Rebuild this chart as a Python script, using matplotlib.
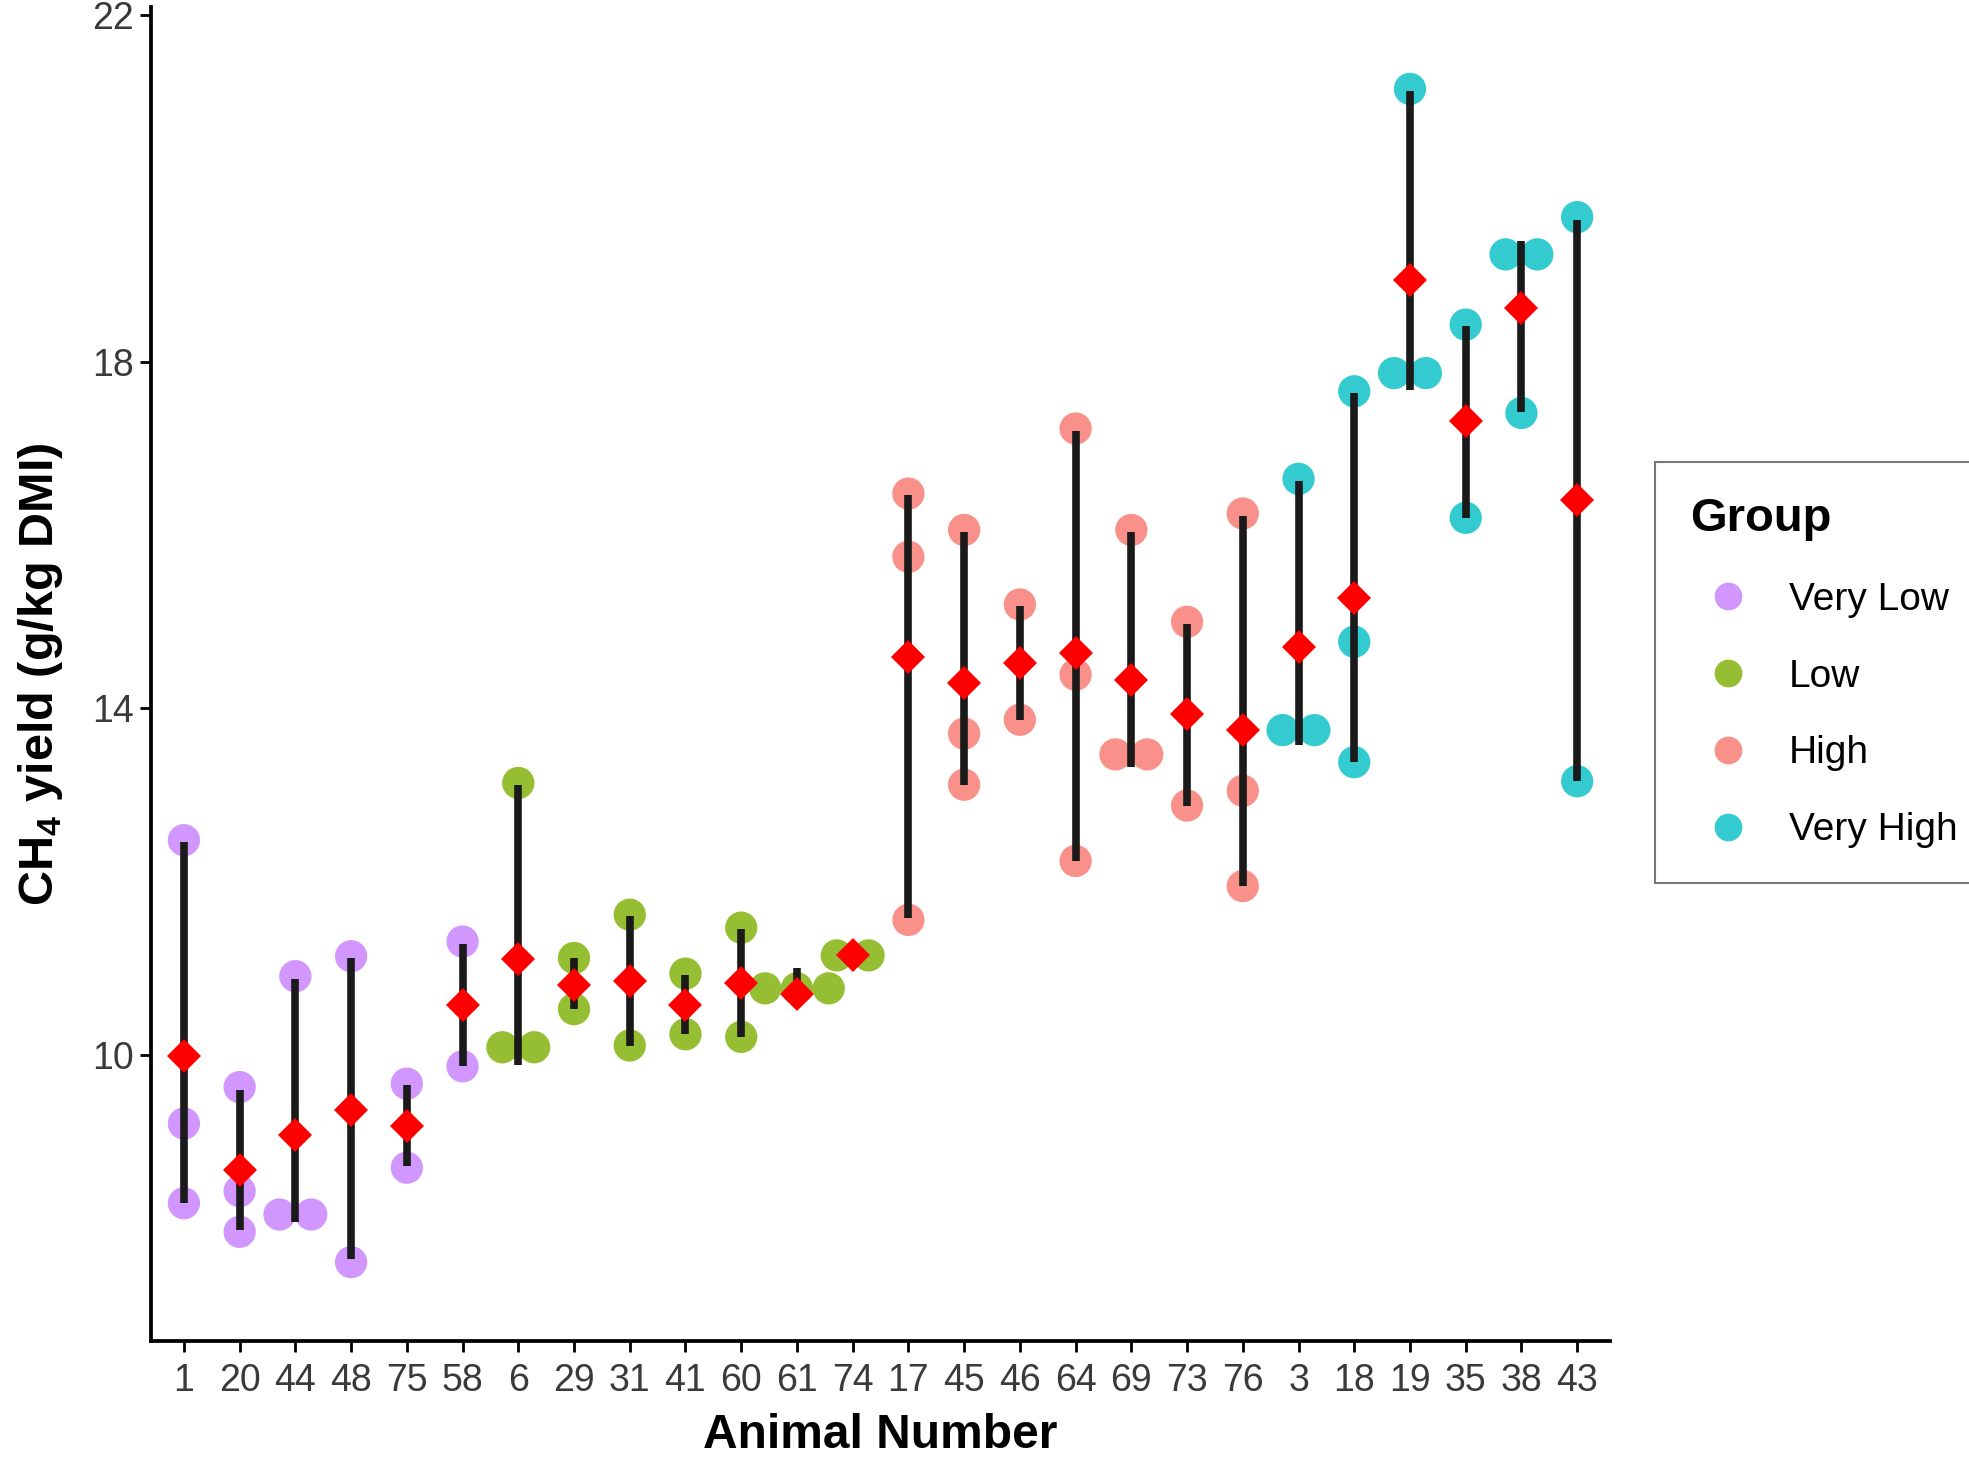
import matplotlib
matplotlib.use("Agg")
import matplotlib.pyplot as plt
from matplotlib.lines import Line2D
import numpy as np

plt.rcParams['font.family'] = ['Liberation Sans', 'DejaVu Sans']
plt.rcParams['mathtext.fontset'] = 'custom'
plt.rcParams['mathtext.rm'] = 'Liberation Sans'
plt.rcParams['mathtext.bf'] = 'Liberation Sans:bold'

# animals in plotting order
animals = ['1', '20', '44', '48', '75', '58', '6', '29', '31', '41', '60', '61', '74',
           '17', '45', '46', '64', '69', '73', '76', '3', '18', '19', '35', '38', '43']
groups = (['Very Low'] * 6 + ['Low'] * 7 + ['High'] * 7 + ['Very High'] * 6)

# individual measurements (as binned in the dot plot)
points = [
    [12.48, 9.21, 8.29], [9.63, 8.43, 7.96], [10.91, 8.16, 8.16], [11.14, 7.61],
    [9.67, 8.70], [11.31, 9.87], [13.14, 10.09, 10.09], [11.12, 10.53],
    [11.62, 10.11], [10.94, 10.24], [11.47, 10.21], [10.77, 10.77, 10.77],
    [11.15, 11.15], [16.48, 15.75, 11.56], [16.06, 13.71, 13.12], [15.20, 13.87],
    [17.23, 14.39, 12.24], [16.06, 13.47, 13.47], [15.00, 12.88],
    [16.25, 13.05, 11.95], [16.65, 13.75, 13.75], [17.66, 14.77, 13.38],
    [21.15, 17.87, 17.87], [18.43, 16.20], [19.24, 19.24, 17.41], [19.67, 13.16],
]

# mean per animal (red diamonds)
means = [9.99, 8.67, 9.08, 9.37, 9.18, 10.58, 11.11, 10.81, 10.86, 10.58, 10.83, 10.70,
         11.15, 14.59, 14.29, 14.53, 14.64, 14.33, 13.94, 13.75, 14.71, 15.27, 18.95,
         17.32, 18.62, 16.41]

# range lines (min / max)
lo = [8.29, 7.98, 8.07, 7.65, 8.72, 9.87, 9.89, 10.53, 10.11, 10.24, 10.21, 10.55, 11.10,
      11.58, 13.12, 13.87, 12.24, 13.32, 12.88, 11.95, 13.58, 13.38, 17.67, 16.20, 17.42,
      13.16]
hi = [12.46, 9.60, 10.88, 11.12, 9.65, 11.28, 13.12, 11.12, 11.60, 10.92, 11.45, 11.00,
      11.20, 16.46, 16.04, 15.18, 17.20, 16.04, 14.98, 16.22, 16.63, 17.64, 21.12, 18.41,
      19.39, 19.64]

group_names = ['Very Low', 'Low', 'High', 'Very High']
group_colors = ['#C77CFF', '#7CAE00', '#F8766D', '#00BFC4']
col = dict(zip(group_names, group_colors))

fig = plt.figure(figsize=(19.69, 14.6), dpi=100)
ax = fig.add_axes([0.0767, 0.0815, 0.7410, 0.914])

xpos = np.arange(len(animals))
dot_w = 0.57  # horizontal stacking width of one dot

for i, vals in enumerate(points):
    vals = np.array(vals)
    xs = np.zeros(len(vals))
    for v in np.unique(vals):
        idx = np.where(vals == v)[0]
        n = len(idx)
        xs[idx] = (np.arange(n) - (n - 1) / 2) * dot_w
    ax.scatter(xpos[i] + xs, vals, s=540, color=col[groups[i]], alpha=0.8,
               edgecolors='none', zorder=2)

ax.vlines(xpos, lo, hi, color='#1a1a1a', lw=5.5, zorder=3, capstyle='butt')
ax.plot(xpos, means, linestyle='none', marker='D', ms=17, color='red',
        markeredgewidth=0, zorder=4)

ax.set_xlim(-0.59, len(animals) - 1 + 0.59)
ax.set_ylim(6.70, 22.1)
ax.set_xticks(xpos)
ax.set_xticklabels(animals)
ax.set_yticks([10, 14, 18, 22])

for s in ['top', 'right']:
    ax.spines[s].set_visible(False)
for s in ['left', 'bottom']:
    ax.spines[s].set_linewidth(2.7)
ax.tick_params(axis='both', length=8, width=2, color='black', labelsize=27,
               labelcolor='#3a3a3a')
ax.tick_params(axis='x', pad=8)
ax.tick_params(axis='y', pad=4)

ax.set_xlabel('Animal Number', fontsize=34.5, fontweight='bold', labelpad=10)
ax.set_ylabel(r'CH$_\mathbf{4}$ yield (g/kg DMI)', fontsize=35, fontweight='bold',
              labelpad=20)

handles = [Line2D([], [], linestyle='none', marker='o', ms=20, color=c, alpha=0.8,
                  markeredgewidth=0) for c in group_colors]
leg = fig.legend(handles, group_names, title='Group', loc='upper left',
                 bbox_to_anchor=(0.8405, 0.6836), borderaxespad=0, fontsize=28,
                 title_fontproperties={'size': 34, 'weight': 'bold'},
                 frameon=True, fancybox=False, edgecolor='#555555',
                 labelspacing=1.05, handletextpad=0.6, borderpad=0.9,
                 handlelength=1.95)
leg.get_frame().set_linewidth(1.5)
leg._legend_box.align = 'left'

fig.savefig('out.png', dpi=100)
